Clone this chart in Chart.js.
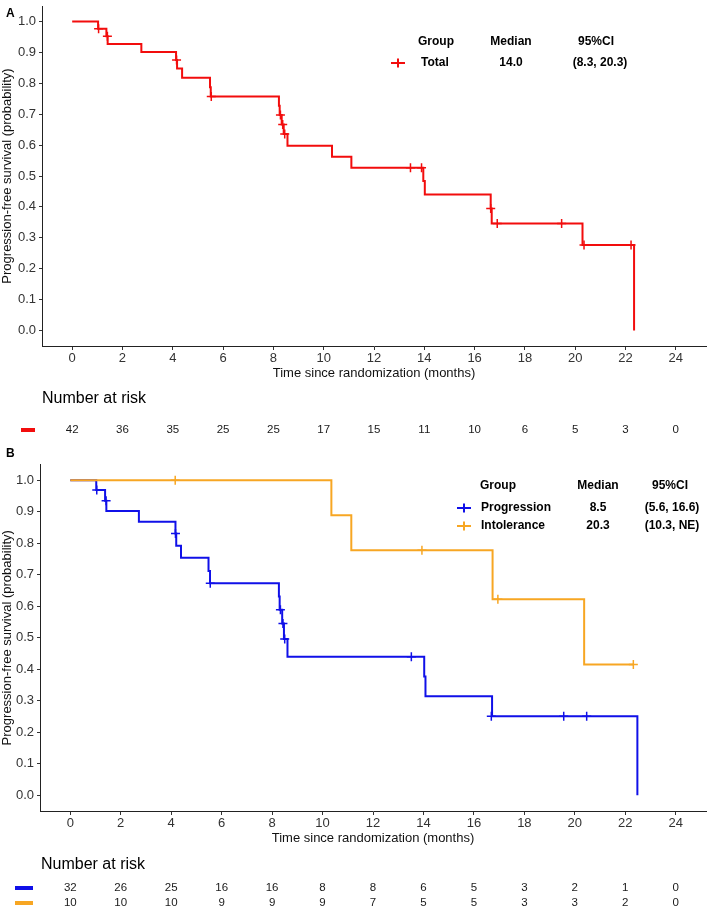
<!DOCTYPE html>
<html>
<head>
<meta charset="utf-8">
<script src="https://cdn.jsdelivr.net/npm/chart.js@4.4.1/dist/chart.umd.min.js"></script>
<style>
  html, body { margin: 0; padding: 0; background: #ffffff; }
  body { width: 712px; height: 909px; position: relative; overflow: hidden; }
  canvas { position: absolute; left: 0; }
  #cA { top: 0; }
  #cB { top: 445px; }
</style>
</head>
<body>
<canvas id="cA" width="712" height="445"></canvas>
<canvas id="cB" width="712" height="464"></canvas>
<script>
// ---------------- DATA ----------------
const xTicks = [0, 2, 4, 6, 8, 10, 12, 14, 16, 18, 20, 22, 24];
const yTicks = [0, 0.1, 0.2, 0.3, 0.4, 0.5, 0.6, 0.7, 0.8, 0.9, 1.0];

// Panel A: Total (Kaplan-Meier steps: time of drop, survival after drop)
const totalTimes = [0, 1.03, 1.36, 1.41, 2.75, 4.13, 4.17, 4.37, 5.48, 5.51, 8.22, 8.25, 8.33, 8.41, 8.56, 10.33, 11.10, 13.96, 14.02, 16.64, 16.68, 20.29, 22.34];
const totalSurv  = [1.0, 0.976, 0.952, 0.927, 0.901, 0.875, 0.848, 0.818, 0.787, 0.757, 0.727, 0.697, 0.667, 0.636, 0.598, 0.562, 0.527, 0.484, 0.440, 0.395, 0.346, 0.277, 0.0];
const totalCensTimes = [1.05, 1.40, 4.15, 5.53, 8.28, 8.37, 8.45, 13.45, 13.89, 16.64, 16.90, 19.46, 20.35, 22.22];
const totalCensSurv  = [0.976, 0.952, 0.875, 0.757, 0.697, 0.667, 0.636, 0.527, 0.527, 0.395, 0.346, 0.346, 0.277, 0.277];

// Panel B: Progression
const progTimes = [0, 1.03, 1.38, 1.43, 2.72, 4.17, 4.20, 4.39, 5.48, 5.54, 8.27, 8.30, 8.40, 8.47, 8.61, 14.03, 14.08, 16.72, 22.48];
const progSurv  = [1.0, 0.969, 0.935, 0.902, 0.868, 0.831, 0.792, 0.754, 0.712, 0.673, 0.631, 0.589, 0.545, 0.496, 0.440, 0.377, 0.314, 0.251, 0.0];
const progCensTimes = [1.05, 1.42, 4.17, 5.55, 8.33, 8.43, 8.50, 13.52, 16.69, 19.56, 20.47];
const progCensSurv  = [0.969, 0.935, 0.831, 0.673, 0.589, 0.545, 0.496, 0.440, 0.251, 0.251, 0.251];

// Panel B: Intolerance
const intolTimes = [0, 10.35, 11.14, 16.74, 20.37, 22.32];
const intolSurv  = [1.0, 0.889, 0.778, 0.622, 0.415, 0.415];
const intolCensTimes = [4.16, 13.94, 16.95, 22.32];
const intolCensSurv  = [1.0, 0.778, 0.622, 0.415];

// Number at risk
const riskTimes = [0, 2, 4, 6, 8, 10, 12, 14, 16, 18, 20, 22, 24];
const riskTotal = [42, 36, 35, 25, 25, 17, 15, 11, 10, 6, 5, 3, 0];
const riskProg  = [32, 26, 25, 16, 16, 8, 8, 6, 5, 3, 2, 1, 0];
const riskIntol = [10, 10, 10, 9, 9, 9, 7, 5, 5, 3, 3, 2, 0];

// Legend tables
const legendHeader = ['Group', 'Median', '95%CI'];
const legendA = [['Total', '14.0', '(8.3, 20.3)']];
const legendB = [['Progression', '8.5', '(5.6, 16.6)'], ['Intolerance', '20.3', '(10.3, NE)']];

// ---------------- STYLE ----------------
const RED = '#f20d0d', BLUE = '#1010e8', ORANGE = '#f7a623';
const FAMILY = "'Liberation Sans', Arial, Helvetica, sans-serif";
Chart.defaults.font.family = FAMILY;

const zip = (xs, ys) => xs.map((x, i) => ({ x: x, y: ys[i] }));

function stepSet(times, surv, color, order) {
  return { data: zip(times, surv), borderColor: color, backgroundColor: color, borderWidth: 2,
           stepped: 'before', pointRadius: 0, fill: false, order: order, tension: 0 };
}
function censSet(times, surv, color) {
  return { data: zip(times, surv), borderColor: color, backgroundColor: color, showLine: false,
           pointStyle: 'cross', pointRadius: 4.5, pointBorderWidth: 1.5, order: -1 };
}

const annot = {
  id: 'annot',
  afterDraw(chart, args, o) {
    const ctx = chart.ctx, xs = chart.scales.x;
    ctx.save();
    ctx.textBaseline = 'middle';
    // panel letter
    ctx.fillStyle = '#000';
    ctx.font = 'bold 12px ' + FAMILY;
    ctx.textAlign = 'left';
    ctx.fillText(o.letter, o.letterX, o.letterY);
    // legend header
    ctx.font = 'bold 12px ' + FAMILY;
    ctx.textAlign = 'center';
    ctx.fillText(legendHeader[0], o.colGroupC, o.headY);
    ctx.fillText(legendHeader[1], o.colMedC, o.headY);
    ctx.fillText(legendHeader[2], o.colCIC, o.headY);
    o.legendRows.forEach((row, i) => {
      const y = o.rowY[i];
      ctx.strokeStyle = o.legendColors[i];
      ctx.lineWidth = 2;
      ctx.beginPath();
      ctx.moveTo(o.markX - 7, y); ctx.lineTo(o.markX + 7, y);
      ctx.moveTo(o.markX, y - 4.5); ctx.lineTo(o.markX, y + 4.5);
      ctx.stroke();
      ctx.fillStyle = '#000';
      ctx.textAlign = 'left';
      ctx.fillText(row[0], o.labelX, y);
      ctx.textAlign = 'center';
      ctx.fillText(row[1], o.colMedC, y);
      ctx.fillText(row[2], o.colCIRowC, y);
    });
    // number at risk
    ctx.textAlign = 'left';
    ctx.fillStyle = '#000';
    ctx.font = '16px ' + FAMILY;
    ctx.fillText('Number at risk', o.narX, o.narY);
    o.riskRows.forEach((vals, i) => {
      const y = o.riskY[i];
      ctx.fillStyle = o.riskColors[i];
      ctx.fillRect(o.dashX, y - 2, o.dashW, 4);
      ctx.fillStyle = '#1a1a1a';
      ctx.font = '11.5px ' + FAMILY;
      ctx.textAlign = 'center';
      riskTimes.forEach((t, j) => {
        ctx.fillText(String(vals[j]), xs.getPixelForValue(t), y);
      });
    });
    ctx.restore();
  }
};

function makeOptions(yWidth, pad, annOpts) {
  return {
    responsive: false, animation: false, devicePixelRatio: 1,
    layout: { padding: pad },
    plugins: { legend: { display: false }, tooltip: { enabled: false }, annot: annOpts },
    scales: {
      x: {
        type: 'linear', min: -1.2, max: 25.2,
        afterBuildTicks: s => { s.ticks = xTicks.map(v => ({ value: v })); },
        afterFit: s => { s.height = 35; s.paddingLeft = 0; s.paddingRight = 0; },
        ticks: { autoSkip: false, maxRotation: 0, padding: 1, color: '#333', font: { size: 13 },
                 callback: v => String(v) },
        grid: { drawOnChartArea: false, drawTicks: true, tickLength: 4, color: '#333', lineWidth: 1 },
        border: { display: true, color: '#222', width: 1 },
        title: { display: true, text: 'Time since randomization (months)', color: '#111',
                 font: { size: 13 }, padding: { top: 0, bottom: 0 } }
      },
      y: {
        type: 'linear', min: -0.05, max: 1.05,
        afterBuildTicks: s => { s.ticks = yTicks.map(v => ({ value: v })); },
        afterFit: s => { s.width = yWidth; s.paddingTop = 0; s.paddingBottom = 0; },
        ticks: { padding: 3, color: '#333', font: { size: 13 }, callback: v => Number(v).toFixed(1) },
        grid: { drawOnChartArea: false, drawTicks: true, tickLength: 3, color: '#333', lineWidth: 1 },
        border: { display: true, color: '#222', width: 1 },
        title: { display: true, text: 'Progression-free survival (probability)', color: '#111',
                 font: { size: 13 }, padding: { top: 0, bottom: 0 } }
      }
    }
  };
}

// ---------------- CHART A ----------------
new Chart(document.getElementById('cA'), {
  type: 'line',
  data: { datasets: [
    stepSet(totalTimes, totalSurv, RED, 1),
    censSet(totalCensTimes, totalCensSurv, RED)
  ] },
  options: makeOptions(42, { top: 2, right: 3, bottom: 64, left: 0 }, {
    letter: 'A', letterX: 6, letterY: 14,
    headY: 42, colGroupC: 436, colMedC: 511, colCIC: 596, colCIRowC: 600,
    rowY: [63], markX: 398, labelX: 421,
    legendRows: legendA, legendColors: [RED],
    narX: 42, narY: 399,
    riskRows: [riskTotal], riskY: [430], riskColors: [RED], dashX: 21, dashW: 14
  }),
  plugins: [annot]
});

// ---------------- CHART B ----------------
new Chart(document.getElementById('cB'), {
  type: 'line',
  data: { datasets: [
    stepSet(intolTimes, intolSurv, ORANGE, 0),
    stepSet(progTimes, progSurv, BLUE, 1),
    censSet(progCensTimes, progCensSurv, BLUE),
    censSet(intolCensTimes, intolCensSurv, ORANGE)
  ] },
  options: makeOptions(40, { top: 19.5, right: 3, bottom: 63, left: 0 }, {
    letter: 'B', letterX: 6, letterY: 9,
    headY: 41, colGroupC: 498, colMedC: 598, colCIC: 670, colCIRowC: 672,
    rowY: [63, 81], markX: 464, labelX: 481,
    legendRows: legendB, legendColors: [BLUE, ORANGE],
    narX: 41, narY: 420,
    riskRows: [riskProg, riskIntol], riskY: [443, 458], riskColors: [BLUE, ORANGE], dashX: 15, dashW: 18
  }),
  plugins: [annot]
});
</script>
</body>
</html>
